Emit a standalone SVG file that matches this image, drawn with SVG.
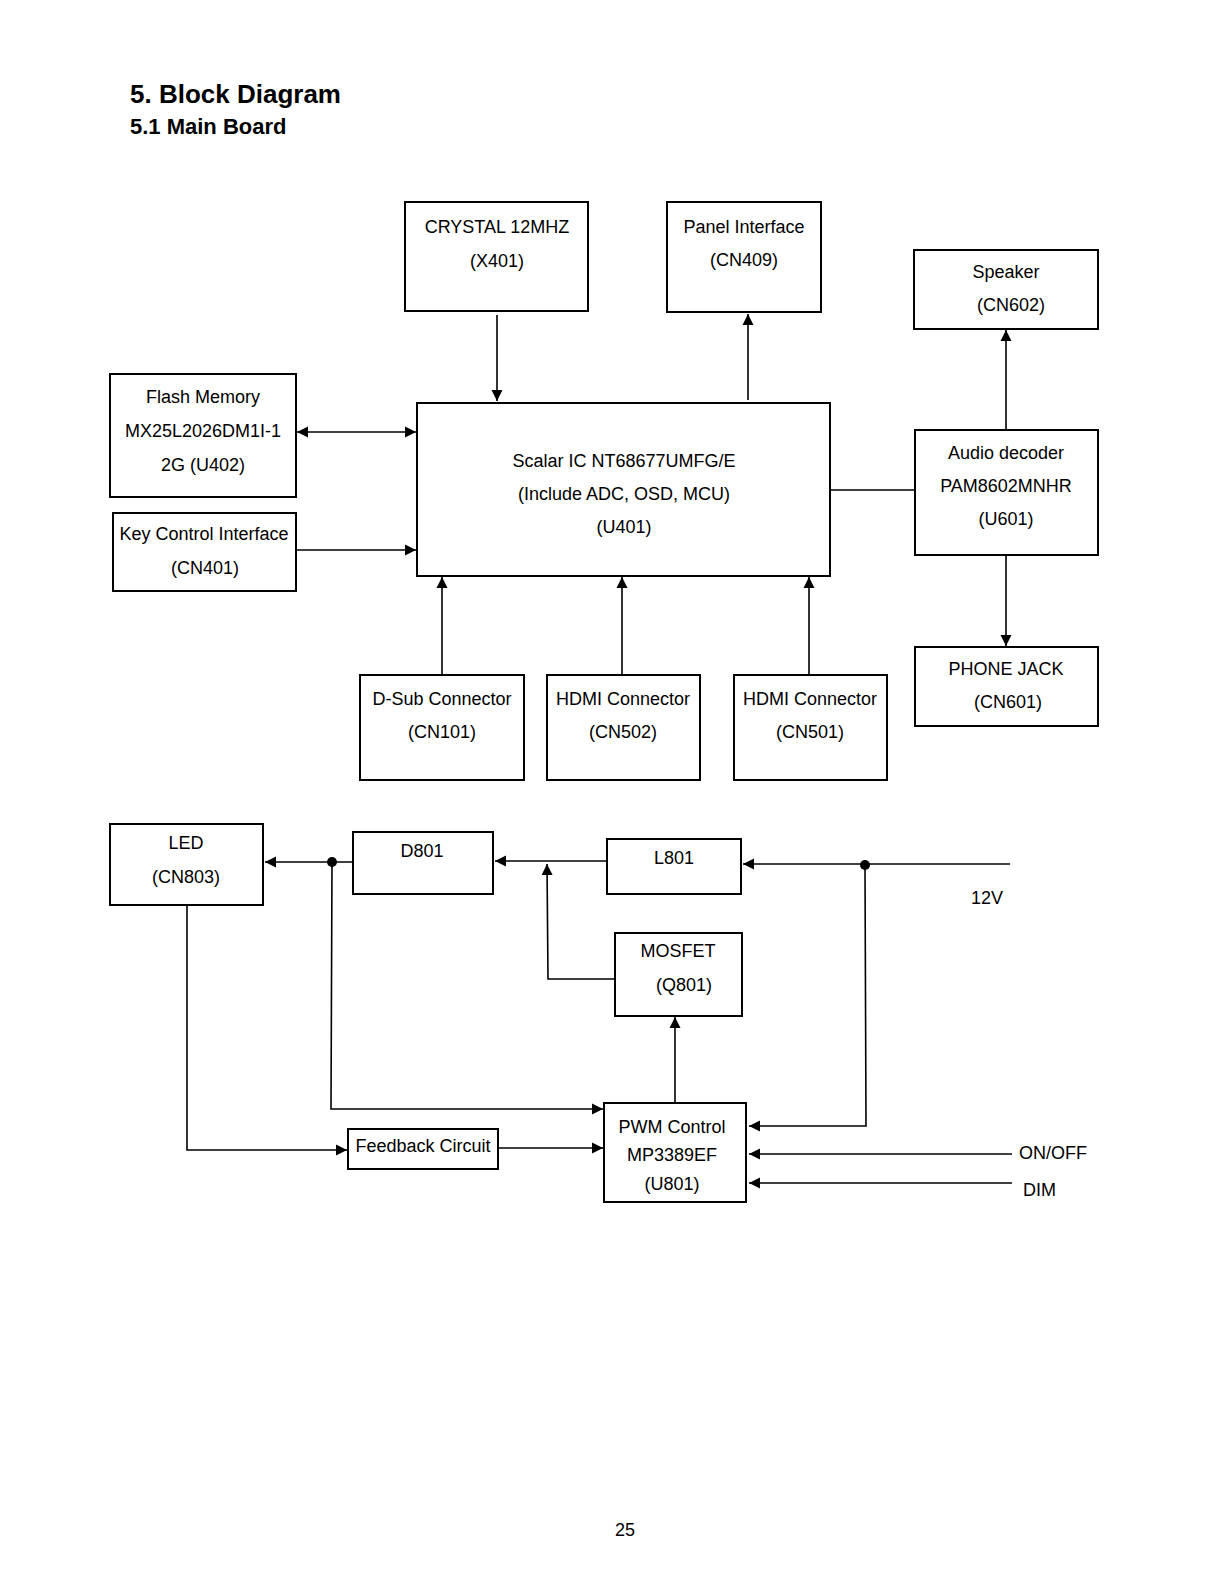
<svg xmlns="http://www.w3.org/2000/svg" width="1219" height="1582" viewBox="0 0 1219 1582">
<style>
.b{fill:none;stroke:#000;stroke-width:2}
.t{font-family:"Liberation Sans",Arial,sans-serif;font-size:18px;fill:#000;text-anchor:middle}
.l{font-family:"Liberation Sans",Arial,sans-serif;font-size:18px;fill:#000}
.h{font-family:"Liberation Sans",Arial,sans-serif;font-weight:bold;fill:#000}
.c{fill:none;stroke:#000;stroke-width:1.6}
</style>
<defs>
<marker id="a" markerUnits="userSpaceOnUse" markerWidth="12" markerHeight="12" refX="11" refY="6" orient="auto-start-reverse"><path d="M0,0.5 L11,6 L0,11.5 Z" fill="#000"/></marker>
</defs>
<rect width="1219" height="1582" fill="#fff"/>
<text class="h" x="130" y="103" font-size="26">5. Block Diagram</text>
<text class="h" x="130" y="134" font-size="22">5.1 Main Board</text>

<g id="crystal"><rect class="b" x="405" y="202" width="183" height="109"/><text class="t" x="497" y="233">CRYSTAL 12MHZ</text><text class="t" x="497" y="267">(X401)</text></g>
<g id="panel"><rect class="b" x="667" y="202" width="154" height="110"/><text class="t" x="744" y="233">Panel Interface</text><text class="t" x="744" y="266">(CN409)</text></g>
<g id="speaker"><rect class="b" x="914" y="250" width="184" height="79"/><text class="t" x="1006" y="278">Speaker</text><text class="t" x="1011" y="311">(CN602)</text></g>
<g id="flash"><rect class="b" x="110" y="374" width="186" height="123"/><text class="t" x="203" y="403">Flash Memory</text><text class="t" x="203" y="437">MX25L2026DM1I-1</text><text class="t" x="203" y="471">2G (U402)</text></g>
<g id="key"><rect class="b" x="113" y="513" width="183" height="78"/><text class="t" x="204" y="540">Key Control Interface</text><text class="t" x="205" y="574">(CN401)</text></g>
<g id="scalar"><rect class="b" x="417" y="403" width="413" height="173"/><text class="t" x="624" y="467">Scalar IC NT68677UMFG/E</text><text class="t" x="624" y="500">(Include ADC, OSD, MCU)</text><text class="t" x="624" y="533">(U401)</text></g>
<g id="audio"><rect class="b" x="915" y="430" width="183" height="125"/><text class="t" x="1006" y="459">Audio decoder</text><text class="t" x="1006" y="492">PAM8602MNHR</text><text class="t" x="1006" y="525">(U601)</text></g>
<g id="phone"><rect class="b" x="915" y="647" width="183" height="79"/><text class="t" x="1006" y="675">PHONE JACK</text><text class="t" x="1008" y="708">(CN601)</text></g>
<g id="dsub"><rect class="b" x="360" y="675" width="164" height="105" stroke-width="1.6"/><text class="t" x="442" y="705">D-Sub Connector</text><text class="t" x="442" y="738">(CN101)</text></g>
<g id="hdmi502"><rect class="b" x="547" y="675" width="153" height="105" stroke-width="1.6"/><text class="t" x="623" y="705">HDMI Connector</text><text class="t" x="623" y="738">(CN502)</text></g>
<g id="hdmi501"><rect class="b" x="734" y="675" width="153" height="105" stroke-width="1.6"/><text class="t" x="810" y="705">HDMI Connector</text><text class="t" x="810" y="738">(CN501)</text></g>

<g id="led"><rect class="b" x="110" y="824" width="153" height="81"/><text class="t" x="186" y="849">LED</text><text class="t" x="186" y="883">(CN803)</text></g>
<g id="d801"><rect class="b" x="353" y="832" width="140" height="62"/><text class="t" x="422" y="857">D801</text></g>
<g id="l801"><rect class="b" x="607" y="839" width="134" height="55"/><text class="t" x="674" y="864">L801</text></g>
<g id="mosfet"><rect class="b" x="615" y="933" width="127" height="83"/><text class="t" x="678" y="957">MOSFET</text><text class="t" x="684" y="991">(Q801)</text></g>
<g id="pwm"><rect class="b" x="604" y="1103" width="142" height="99"/><text class="t" x="672" y="1133">PWM Control</text><text class="t" x="672" y="1161">MP3389EF</text><text class="t" x="672" y="1190">(U801)</text></g>
<g id="feedback"><rect class="b" x="348" y="1129" width="150" height="40" stroke-width="1.6"/><text class="t" x="423" y="1152">Feedback Circuit</text></g>

<g id="labels">
<text class="l" x="971" y="904">12V</text>
<text class="l" x="1019" y="1159">ON/OFF</text>
<text class="l" x="1023" y="1196">DIM</text>
<text class="t" x="625" y="1536">25</text>
</g>

<g id="connectors">
<line class="c" x1="497" y1="315" x2="497" y2="401" marker-end="url(#a)"/>
<line class="c" x1="748" y1="400" x2="748" y2="314" marker-end="url(#a)"/>
<line class="c" x1="297" y1="432" x2="416" y2="432" marker-start="url(#a)" marker-end="url(#a)"/>
<line class="c" x1="297" y1="550" x2="416" y2="550" marker-end="url(#a)"/>
<line class="c" x1="831" y1="490" x2="915" y2="490" stroke-width="2"/>
<line class="c" x1="1006" y1="430" x2="1006" y2="330" marker-end="url(#a)"/>
<line class="c" x1="1006" y1="556" x2="1006" y2="646" marker-end="url(#a)"/>
<line class="c" x1="442" y1="675" x2="442" y2="577" marker-end="url(#a)"/>
<line class="c" x1="622" y1="675" x2="622" y2="577" marker-end="url(#a)"/>
<line class="c" x1="809" y1="675" x2="809" y2="577" marker-end="url(#a)"/>

<line class="c" x1="1010" y1="864" x2="743" y2="864" marker-end="url(#a)"/>
<circle cx="865" cy="865" r="5" fill="#000"/>
<polyline class="c" points="865,865 866,1126 749,1126" marker-end="url(#a)"/>
<line class="c" x1="607" y1="861" x2="495" y2="861" marker-end="url(#a)"/>
<polyline class="c" points="615,979 548,979 547,864" marker-end="url(#a)"/>
<line class="c" x1="353" y1="862" x2="265" y2="862" marker-end="url(#a)"/>
<circle cx="332" cy="862" r="5" fill="#000"/>
<polyline class="c" points="332,862 331,1109 603,1109" marker-end="url(#a)"/>
<polyline class="c" points="187,905 187,1150 347,1150" marker-end="url(#a)"/>
<line class="c" x1="498" y1="1148" x2="603" y2="1148" marker-end="url(#a)"/>
<line class="c" x1="675" y1="1103" x2="675" y2="1017" marker-end="url(#a)"/>
<line class="c" x1="1012" y1="1154" x2="749" y2="1154" marker-end="url(#a)"/>
<line class="c" x1="1012" y1="1183" x2="749" y2="1183" marker-end="url(#a)"/>
</g>
</svg>
